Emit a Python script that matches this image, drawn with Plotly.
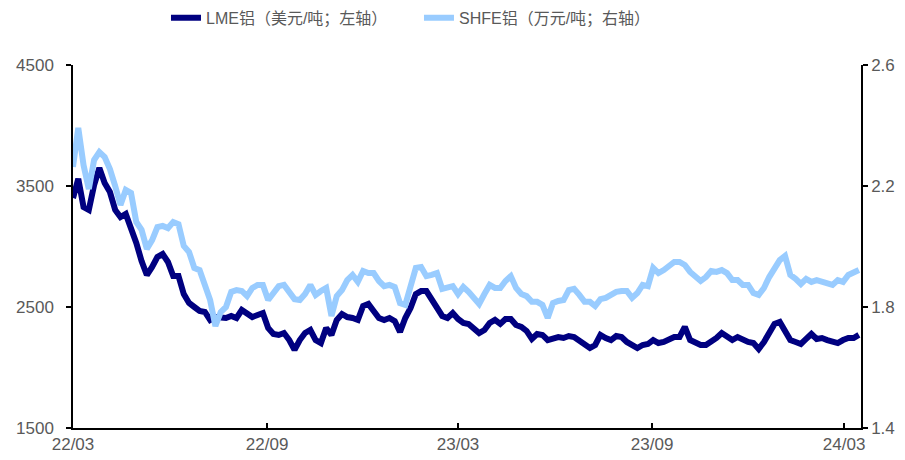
import pandas as pd
import plotly.graph_objects as go

# Sampling dates (every 5 days, 2022-03-01 .. 2024-03-15)
dates = pd.date_range("2022-03-01", periods=150, freq="5D")

# LME aluminium, USD/t (left axis)
lme_usd = [
    3400, 3560, 3326, 3302, 3508, 3649, 3525, 3450, 3302, 3244,
    3269, 3161, 3029, 2880, 2764, 2831, 2913, 2938, 2872, 2756,
    2756, 2607, 2533, 2500, 2467, 2459, 2393, 2417, 2417, 2409,
    2426, 2409, 2475, 2450, 2417, 2434, 2450, 2326, 2277, 2269,
    2285, 2227, 2145, 2227, 2285, 2310, 2227, 2202, 2326, 2269,
    2393, 2442, 2417, 2409, 2393, 2508, 2525, 2467, 2409, 2393,
    2409, 2384, 2293, 2409, 2492, 2607, 2632, 2632, 2566, 2483,
    2426, 2409, 2450, 2401, 2368, 2360, 2318, 2285, 2310, 2368,
    2393, 2360, 2401, 2401, 2351, 2335, 2302, 2236, 2277, 2269,
    2227, 2244, 2252, 2244, 2260, 2252, 2219, 2186, 2161, 2186,
    2269, 2244, 2227, 2260, 2252, 2211, 2186, 2161, 2186, 2194,
    2227, 2202, 2211, 2236, 2252, 2252, 2335, 2227, 2202, 2186,
    2186, 2211, 2244, 2285, 2252, 2227, 2252, 2227, 2211, 2202,
    2153, 2211, 2277, 2360, 2376, 2293, 2227, 2211, 2194, 2236,
    2277, 2236, 2244, 2227, 2211, 2202, 2227, 2244, 2244, 2269,
]

# SHFE aluminium, 10k CNY/t (right axis)
shfe_cny = [
    2.263, 2.392, 2.269, 2.190, 2.286, 2.312, 2.296, 2.256, 2.200, 2.137,
    2.187, 2.177, 2.081, 2.055, 1.992, 2.021, 2.064, 2.068, 2.061, 2.081,
    2.074, 2.002, 1.982, 1.929, 1.922, 1.879, 1.823, 1.737, 1.783, 1.800,
    1.850, 1.856, 1.853, 1.836, 1.863, 1.873, 1.873, 1.823, 1.850, 1.869,
    1.873, 1.853, 1.826, 1.823, 1.843, 1.873, 1.840, 1.853, 1.863, 1.770,
    1.836, 1.856, 1.889, 1.906, 1.883, 1.919, 1.912, 1.912, 1.886, 1.869,
    1.873, 1.866, 1.813, 1.807, 1.873, 1.929, 1.932, 1.902, 1.906, 1.912,
    1.860, 1.863, 1.869, 1.843, 1.866, 1.850, 1.833, 1.810, 1.843, 1.873,
    1.863, 1.863, 1.886, 1.902, 1.863, 1.843, 1.836, 1.817, 1.817, 1.807,
    1.764, 1.813, 1.820, 1.823, 1.856, 1.860, 1.840, 1.817, 1.817, 1.803,
    1.826, 1.830, 1.840, 1.850, 1.853, 1.853, 1.830, 1.846, 1.873, 1.869,
    1.929, 1.912, 1.922, 1.936, 1.949, 1.949, 1.939, 1.916, 1.899, 1.886,
    1.899, 1.919, 1.916, 1.922, 1.912, 1.889, 1.889, 1.873, 1.873, 1.846,
    1.840, 1.863, 1.899, 1.929, 1.955, 1.969, 1.906, 1.893, 1.876, 1.893,
    1.883, 1.889, 1.883, 1.879, 1.873, 1.889, 1.883, 1.906, 1.916, 1.922,
]

tick_dates = ["2022-03-01", "2022-09-01", "2023-03-01", "2023-09-01", "2024-03-01"]
tick_text = ["22/03", "22/09", "23/03", "23/09", "24/03"]

FONT = "Arial, 'Liberation Sans', 'Noto Sans CJK SC', sans-serif"
GREY = "#595959"

fig = go.Figure()
fig.add_trace(go.Scatter(
    x=dates, y=lme_usd, mode="lines", name="LME铝（美元/吨；左轴）",
    line=dict(color="#000080", width=6), yaxis="y",
))
fig.add_trace(go.Scatter(
    x=dates, y=shfe_cny, mode="lines", name="SHFE铝（万元/吨；右轴）",
    line=dict(color="#99CCFF", width=6), yaxis="y2",
))

axis_common = dict(
    showgrid=False, zeroline=False, showline=True, linecolor="black",
    linewidth=1.5, tickcolor="black", tickwidth=1.5, ticklen=5,
    tickfont=dict(family=FONT, size=17, color=GREY),
)

fig.update_layout(
    width=905, height=460,
    margin=dict(l=73, r=44, t=65, b=32, autoexpand=False),
    paper_bgcolor="white", plot_bgcolor="white",
    showlegend=True,
    legend=dict(
        orientation="h", x=0.118, xanchor="left", y=1.13, yanchor="middle",
        font=dict(family=FONT, size=16, color=GREY),
        entrywidth=208, entrywidthmode="pixels",
        bgcolor="rgba(0,0,0,0)",
    ),
    xaxis=dict(
        **axis_common, type="date",
        range=["2022-03-01", "2024-03-17"],
        tickmode="array", tickvals=tick_dates, ticktext=tick_text,
        ticks="inside",
    ),
    yaxis=dict(
        **axis_common, range=[1500, 4500], tickmode="array",
        tickvals=[1500, 2500, 3500, 4500], ticks="outside",
        ticklabelstandoff=9,
    ),
    yaxis2=dict(
        **axis_common, range=[1.4, 2.6], tickmode="array",
        tickvals=[1.4, 1.8, 2.2, 2.6], tickformat=".1f",
        overlaying="y", side="right", ticks="outside",
    ),
)

fig.write_html("out.html")
